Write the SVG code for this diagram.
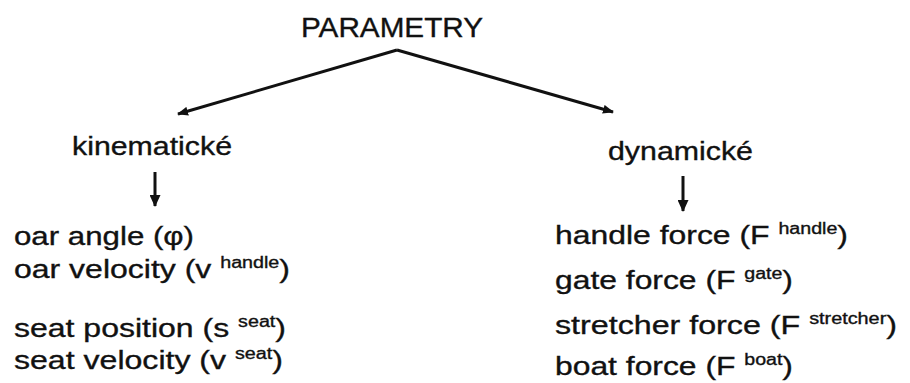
<svg xmlns="http://www.w3.org/2000/svg" width="910" height="383" viewBox="0 0 910 383">
  <style>
    text { font-family: "Liberation Sans", Arial, sans-serif; fill: #111; stroke: #111; stroke-width: 0.35; }
    .title { font-size: 28px; }
    .head { font-size: 26px; }
    .item { font-size: 26px; }
    .sup { font-size: 16px; }
    .conn { stroke: #111; stroke-width: 3; fill: none; }
  </style>
  <defs>
    <marker id="arr" markerWidth="11" markerHeight="9" refX="10" refY="4.5" orient="auto" markerUnits="userSpaceOnUse">
      <path d="M0,0 L11,4.5 L0,9 Z" fill="#111"/>
    </marker>
    <marker id="arrDown" markerWidth="12" markerHeight="11" refX="11" refY="5.5" orient="auto" markerUnits="userSpaceOnUse">
      <path d="M0,0 L12,5.5 L0,11 Z" fill="#111"/>
    </marker>
  </defs>
  <rect width="910" height="383" fill="#fff"/>

  <g id="connectors">
    <line class="conn" x1="397" y1="50" x2="178" y2="114" marker-end="url(#arr)"/>
    <line class="conn" x1="397" y1="50" x2="613" y2="112" marker-end="url(#arr)"/>
    <line class="conn" x1="155" y1="172" x2="155" y2="206" stroke-width="2.5" marker-end="url(#arrDown)"/>
    <line class="conn" x1="683" y1="176" x2="683" y2="211" stroke-width="2.5" marker-end="url(#arrDown)"/>
  </g>

  <g id="root">
    <text class="title" x="301" y="37" textLength="182" lengthAdjust="spacingAndGlyphs">PARAMETRY</text>
  </g>

  <g id="kinematicke">
    <text class="head" x="72" y="155" textLength="160" lengthAdjust="spacingAndGlyphs">kinematické</text>
  </g>

  <g id="dynamicke">
    <text class="head" x="608" y="160" textLength="145" lengthAdjust="spacingAndGlyphs">dynamické</text>
  </g>

  <g id="kinematic-list">
    <text class="item" x="14" y="245" textLength="180" lengthAdjust="spacingAndGlyphs">oar angle (φ)</text>
    <text class="item" x="14" y="278" textLength="276" lengthAdjust="spacingAndGlyphs">oar velocity (v <tspan class="sup" dy="-10">handle</tspan><tspan dy="10">)</tspan></text>
    <text class="item" x="14" y="337" textLength="272" lengthAdjust="spacingAndGlyphs">seat position (s <tspan class="sup" dy="-10">seat</tspan><tspan dy="10">)</tspan></text>
    <text class="item" x="14" y="369" textLength="269" lengthAdjust="spacingAndGlyphs">seat velocity (v <tspan class="sup" dy="-10">seat</tspan><tspan dy="10">)</tspan></text>
  </g>

  <g id="dynamic-list">
    <text class="item" x="555" y="244" textLength="293" lengthAdjust="spacingAndGlyphs">handle force (F <tspan class="sup" dy="-10">handle</tspan><tspan dy="10">)</tspan></text>
    <text class="item" x="555" y="289" textLength="238" lengthAdjust="spacingAndGlyphs">gate force (F <tspan class="sup" dy="-10">gate</tspan><tspan dy="10">)</tspan></text>
    <text class="item" x="555" y="334" textLength="342" lengthAdjust="spacingAndGlyphs">stretcher force (F <tspan class="sup" dy="-10">stretcher</tspan><tspan dy="10">)</tspan></text>
    <text class="item" x="555" y="375" textLength="238" lengthAdjust="spacingAndGlyphs">boat force (F <tspan class="sup" dy="-10">boat</tspan><tspan dy="10">)</tspan></text>
  </g>
</svg>
